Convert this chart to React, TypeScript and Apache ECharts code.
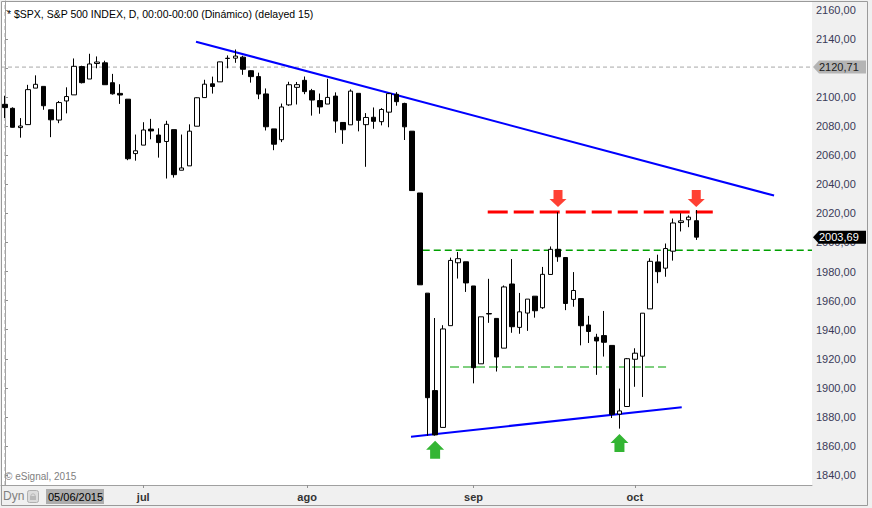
import React, { useEffect, useRef } from "react";
import * as echarts from "echarts";

// ---- Data (S&P 500 daily candles) ----
const dates = [
  "05/06", "08/06", "09/06", "10/06", "11/06", "12/06", "15/06", "16/06", "17/06", "18/06",
  "19/06", "22/06", "23/06", "24/06", "25/06", "26/06", "29/06", "30/06",
  "01/07", "02/07", "06/07", "07/07", "08/07", "09/07", "10/07", "13/07", "14/07", "15/07",
  "16/07", "17/07", "20/07", "21/07", "22/07", "23/07", "24/07", "27/07", "28/07", "29/07",
  "30/07", "31/07",
  "03/08", "04/08", "05/08", "06/08", "07/08", "10/08", "11/08", "12/08", "13/08", "14/08",
  "17/08", "18/08", "19/08", "20/08", "21/08", "24/08", "25/08", "26/08", "27/08", "28/08",
  "31/08",
  "01/09", "02/09", "03/09", "04/09", "08/09", "09/09", "10/09", "11/09", "14/09", "15/09",
  "16/09", "17/09", "18/09", "21/09", "22/09", "23/09", "24/09", "25/09", "28/09", "29/09",
  "30/09",
  "01/10", "02/10", "05/10", "06/10", "07/10", "08/10", "09/10", "12/10", "13/10",
];

const opens = [
  2095.09, 2092.34, 2079.07, 2081.12, 2106.24, 2107.43, 2091.34, 2084.26, 2097.4, 2101.58,
  2121.06, 2112.5, 2123.16, 2123.65, 2109.96, 2102.62, 2098.63, 2061.19,
  2067.0, 2078.03, 2073.95, 2069.52, 2077.66, 2049.73, 2052.74, 2080.03, 2099.72, 2109.21,
  2110.55, 2126.8, 2126.85, 2127.55, 2118.21, 2114.16, 2102.24, 2078.19, 2070.75, 2094.7,
  2106.78, 2111.6,
  2104.49, 2097.68, 2095.27, 2100.75, 2082.61, 2080.98, 2102.66, 2081.1, 2086.19, 2083.15,
  2089.7, 2101.99, 2095.69, 2076.61, 2034.08, 1965.15, 1898.08, 1872.75, 1942.77, 1986.06,
  1986.73,
  1970.09, 1916.52, 1950.79, 1947.76, 1927.3, 1971.45, 1941.59, 1951.45, 1963.06, 1955.1,
  1978.02, 1995.33, 1989.66, 1960.84, 1961.39, 1943.24, 1934.81, 1935.93, 1929.18, 1881.9,
  1887.14,
  1919.65, 1921.77, 1954.33, 1986.63, 1982.34, 1994.01, 2013.73, 2015.65, 2015.0,
];

const highs = [
  2100.99, 2093.01, 2085.62, 2108.5, 2115.02, 2107.43, 2091.34, 2097.4, 2106.79, 2126.65,
  2121.64, 2129.87, 2128.03, 2125.1, 2116.04, 2108.92, 2098.63, 2074.28,
  2082.78, 2085.06, 2078.61, 2083.74, 2077.66, 2074.28, 2081.31, 2099.88, 2111.98, 2114.14,
  2124.42, 2128.76, 2132.82, 2128.48, 2118.51, 2116.87, 2106.01, 2078.19, 2095.6, 2110.6,
  2110.48, 2114.24,
  2105.7, 2102.51, 2112.66, 2103.32, 2082.61, 2105.35, 2102.66, 2089.06, 2092.93, 2092.45,
  2102.87, 2103.47, 2096.17, 2076.61, 2034.08, 1965.15, 1948.04, 1943.09, 1989.6, 1993.48,
  1986.73,
  1970.09, 1948.91, 1975.01, 1947.76, 1970.42, 1988.63, 1965.29, 1961.05, 1963.06, 1983.19,
  1997.26, 2020.86, 1989.66, 1979.64, 1961.39, 1949.52, 1937.17, 1952.89, 1929.18, 1899.48,
  1920.53,
  1927.21, 1951.36, 1989.17, 1991.62, 1999.31, 2016.5, 2020.13, 2018.66, 2022.34,
];

const lows = [
  2085.67, 2079.11, 2072.14, 2081.12, 2106.24, 2091.33, 2072.49, 2082.1, 2088.86, 2101.58,
  2109.45, 2112.5, 2119.89, 2108.58, 2101.78, 2095.38, 2056.64, 2056.32,
  2067.0, 2071.02, 2058.4, 2044.02, 2044.66, 2049.73, 2052.74, 2080.03, 2099.72, 2102.49,
  2110.55, 2119.88, 2123.66, 2115.4, 2110.0, 2098.63, 2077.09, 2063.52, 2069.09, 2094.08,
  2094.97, 2102.07,
  2087.31, 2088.6, 2095.27, 2075.53, 2067.91, 2080.98, 2076.49, 2052.09, 2078.26, 2080.61,
  2079.3, 2094.14, 2070.53, 2035.73, 1970.89, 1867.01, 1867.08, 1872.75, 1942.77, 1975.19,
  1965.98,
  1903.07, 1916.52, 1944.72, 1911.21, 1927.3, 1937.88, 1937.19, 1939.19, 1948.27, 1954.3,
  1977.93, 1986.73, 1953.45, 1955.8, 1929.22, 1930.86, 1908.92, 1921.5, 1879.21, 1871.91,
  1887.14,
  1900.7, 1893.7, 1954.33, 1971.99, 1976.44, 1987.53, 2007.61, 2010.55, 2001.78,
];

const closes = [
  2092.83, 2079.28, 2080.15, 2105.2, 2108.86, 2094.11, 2084.43, 2096.29, 2100.44, 2121.24,
  2109.99, 2122.85, 2124.2, 2108.58, 2102.31, 2101.49, 2057.64, 2063.11,
  2077.42, 2076.78, 2068.76, 2081.34, 2046.68, 2051.31, 2076.62, 2099.6, 2108.95, 2107.4,
  2124.29, 2126.64, 2128.28, 2119.21, 2114.15, 2102.15, 2079.65, 2067.64, 2093.25, 2108.57,
  2108.63, 2103.84,
  2098.04, 2093.32, 2099.84, 2083.56, 2077.57, 2104.18, 2084.07, 2086.05, 2083.39, 2091.54,
  2102.44, 2096.92, 2079.61, 2035.73, 1970.89, 1893.21, 1867.61, 1940.51, 1987.66, 1988.87,
  1972.18,
  1913.85, 1948.86, 1951.13, 1921.22, 1969.41, 1942.04, 1952.29, 1961.05, 1953.03, 1978.09,
  1995.31, 1990.2, 1958.03, 1966.97, 1942.74, 1938.76, 1932.24, 1931.34, 1881.77, 1884.09,
  1920.03,
  1923.82, 1951.36, 1987.05, 1979.92, 1995.83, 2013.43, 2014.89, 2017.46, 2003.69,
];

// Axis ticks (2120 label is hidden under the cursor tag in the original)
const priceTicks = [
  1840, 1860, 1880, 1900, 1920, 1940, 1960, 1980, 2000, 2020, 2040, 2060, 2080, 2100, 2120,
  2140, 2160,
];
const priceLabels = [
  1840, 1860, 1880, 1900, 1920, 1940, 1960, 1980, 2000, 2020, 2040, 2060, 2080, 2100,
  2140, 2160,
];
const monthTickPos = [18, 39.33, 61, 82];
const monthLabels = ["jul", "ago", "sep", "oct"];

// Annotations (bar index, price)
const upperTrend = [
  [24.87, 2138.2],
  [100.13, 2032.3],
];
const lowerTrend = [
  [52.86, 1866.4],
  [88.11, 1886.6],
];
const resistanceLine = [
  [62.85, 2021.0],
  [92.15, 2021.0],
];
const midLine = [
  [54.39, 1994.6],
  [105.07, 1994.6],
];
const supportLine = [
  [57.94, 1914.3],
  [86.07, 1914.3],
];
const downArrows = [
  [72, 2030.3],
  [90, 2030.3],
];
const upArrows = [
  [56, 1857.3],
  [80, 1862.1],
];
const cursorPrice = 2120.71;
const cursorIndex = 0;
const cursorDate = "05/06/2015";
const lastClose = 2003.69;

const X_MIN = -0.5208;
const X_MAX = 105.07;
const Y_MIN = 1833.12;
const Y_MAX = 2166.19;

const FONT = '"Liberation Sans", Arial, sans-serif';
const fmt = (v: number) => v.toFixed(2).replace(".", ",");

export default function App() {
  const ref = useRef<HTMLDivElement>(null);

  useEffect(() => {
    if (!ref.current) return;
    const chart = echarts.init(ref.current, null, { renderer: "svg" });

    const candleData = dates.map((_, i) => [i, opens[i], closes[i], lows[i], highs[i]]);

    const lineSeries = (data: number[][], color: string, width: number, type: any, z = 3) => ({
      type: "line",
      data,
      symbol: "none",
      silent: true,
      z,
      lineStyle: { color, width, type },
    });

    chart.setOption({
      animation: false,
      backgroundColor: "#f0f0f0",
      grid: {
        left: 1,
        top: 1,
        right: 60,
        bottom: 23,
        show: true,
        backgroundColor: "#ffffff",
        borderWidth: 0,
      },
      xAxis: {
        type: "value",
        min: X_MIN,
        max: X_MAX,
        axisLine: { show: true, lineStyle: { color: "#a0a0a0", width: 1 } },
        axisTick: {
          show: true,
          length: 3,
          customValues: monthTickPos,
          lineStyle: { color: "#909090" },
        },
        axisLabel: {
          customValues: monthTickPos,
          formatter: (v: number) => {
            const k = monthTickPos.findIndex((p) => Math.abs(p - v) < 0.01);
            return k >= 0 ? monthLabels[k] : "";
          },
          margin: 6,
          color: "#333333",
          fontSize: 11,
          fontWeight: "bold",
          fontFamily: FONT,
        },
        splitLine: { show: false },
      },
      yAxis: {
        type: "value",
        position: "right",
        min: Y_MIN,
        max: Y_MAX,
        axisLine: { show: true, lineStyle: { color: "#a0a0a0", width: 1 } },
        axisTick: {
          show: true,
          length: 3,
          customValues: priceTicks,
          lineStyle: { color: "#909090" },
        },
        axisLabel: {
          customValues: priceLabels,
          formatter: (v: number) => fmt(v),
          margin: 4,
          color: "#3a3a58",
          fontSize: 11,
          fontFamily: FONT,
        },
        splitLine: { show: false },
      },
      series: [
        lineSeries([[X_MIN, cursorPrice], [X_MAX, cursorPrice]], "#a8a8a8", 1, [4, 3], 2),
        lineSeries([[cursorIndex, Y_MIN], [cursorIndex, Y_MAX]], "#a8a8a8", 1, [4, 3], 2),
        lineSeries(midLine, "#00a000", 1.5, [7, 4]),
        lineSeries(supportLine, "#7fcf7f", 2, [9, 4]),
        lineSeries(resistanceLine, "#ff0000", 3, [20, 6]),
        lineSeries(upperTrend, "#0000ff", 2, "solid"),
        lineSeries(lowerTrend, "#0000ff", 2, "solid"),
        {
          type: "candlestick",
          data: candleData,
          barWidth: 5,
          silent: true,
          z: 5,
          itemStyle: {
            color: "#ffffff",
            color0: "#000000",
            borderColor: "#000000",
            borderColor0: "#000000",
            borderWidth: 1,
          },
        },
        {
          type: "scatter",
          data: downArrows,
          silent: true,
          z: 6,
          symbol: "path://M4,0L13,0L13,9L17,9L8.5,17L0,9L4,9Z",
          symbolSize: [17, 17],
          itemStyle: { color: "#ff1000" },
        },
        {
          type: "scatter",
          data: upArrows,
          silent: true,
          z: 6,
          symbol: "path://M9,0L18,9L14,9L14,18L4,18L4,9L0,9Z",
          symbolSize: [18, 18],
          itemStyle: { color: "#00a300" },
        },
      ],
    });

    const yC = chart.convertToPixel({ yAxisIndex: 0 }, cursorPrice) as number;
    const yL = chart.convertToPixel({ yAxisIndex: 0 }, lastClose) as number;
    const tag = (y: number, fill: string, textFill: string, text: string) => [
      {
        type: "polygon",
        z: 100,
        shape: {
          points: [
            [813, y],
            [819, y - 6.5],
            [866, y - 6.5],
            [866, y + 6.5],
            [819, y + 6.5],
          ],
        },
        style: { fill },
      },
      {
        type: "text",
        z: 101,
        x: 819,
        y: y,
        style: { text, fill: textFill, font: `11px ${FONT}`, verticalAlign: "middle" },
      },
    ];

    chart.setOption({
      graphic: [
        {
          type: "rect",
          z: 50,
          shape: { x: 1.5, y: 1.5, width: 866, height: 504 },
          style: { fill: "none", stroke: "#9a9a9a", lineWidth: 1 },
        },
        {
          type: "text",
          z: 50,
          x: 7,
          y: 14,
          style: {
            text: "* $SPX, S&P 500 INDEX, D, 00:00-00:00 (Dinámico) (delayed 15)",
            fill: "#000000",
            font: `10.5px ${FONT}`,
            verticalAlign: "middle",
          },
        },
        {
          type: "text",
          z: 50,
          x: 5,
          y: 476,
          style: {
            text: "© eSignal, 2015",
            fill: "#808080",
            font: `10px ${FONT}`,
            verticalAlign: "middle",
          },
        },
        {
          type: "text",
          z: 50,
          x: 3,
          y: 496,
          style: { text: "Dyn", fill: "#808080", font: `12px ${FONT}`, verticalAlign: "middle" },
        },
        {
          type: "rect",
          z: 50,
          shape: { x: 27.5, y: 490.5, width: 11, height: 12, r: 2 },
          style: { fill: "#dcdcdc", stroke: "#b0b0b0", lineWidth: 1 },
        },
        {
          type: "rect",
          z: 51,
          shape: { x: 30, y: 496, width: 6, height: 4 },
          style: { fill: "#b8b8b8" },
        },
        {
          type: "arc",
          z: 51,
          shape: { cx: 33, cy: 496, r: 2.2, startAngle: Math.PI, endAngle: 0 },
          style: { stroke: "#b8b8b8", lineWidth: 1, fill: "none" },
        },
        {
          type: "rect",
          z: 50,
          shape: { x: 46, y: 489, width: 58, height: 15 },
          style: { fill: "#adadad" },
        },
        {
          type: "text",
          z: 51,
          x: 48,
          y: 497,
          style: { text: cursorDate, fill: "#000000", font: `11px ${FONT}`, verticalAlign: "middle" },
        },
        ...tag(yC, "#b4b4b4", "#202020", fmt(cursorPrice)),
        ...tag(yL, "#000000", "#ffffff", fmt(lastClose)),
      ],
    });

    return () => chart.dispose();
  }, []);

  return (
    <div
      ref={ref}
      style={{ position: "fixed", left: 0, top: 0, width: 872, height: 508 }}
    />
  );
}
